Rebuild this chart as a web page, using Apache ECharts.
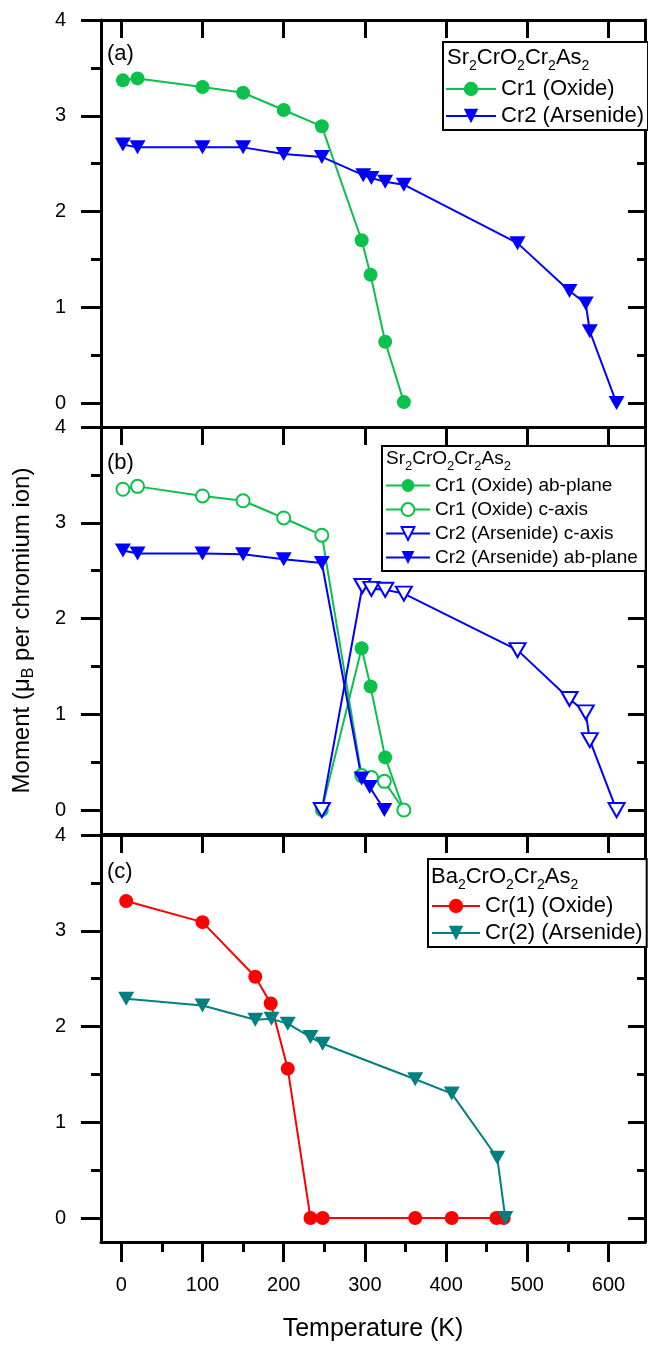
<!DOCTYPE html>
<html>
<head>
<meta charset="utf-8">
<script src="https://cdn.jsdelivr.net/npm/echarts@6.0.0/dist/echarts.min.js"></script>
<style>
  html, body { margin: 0; padding: 0; background: #fff; }
  #chart { width: 648px; height: 1349px; }
</style>
</head>
<body>
<div id="chart"></div>
<script>
// 刻度
const xMajor = [0, 100, 200, 300, 400, 500, 600]
const xMinor = [50, 150, 250, 350, 450, 550]
const yMajor = [0, 1, 2, 3, 4]
const yMinor = [0.5, 1.5, 2.5, 3.5]

// (a) Sr2CrO2Cr2As2
const tempA1 = [2, 20, 100, 150, 200, 247, 296, 307, 325, 348]
const cr1Oxide = [3.37, 3.39, 3.30, 3.24, 3.06, 2.89, 1.70, 1.34, 0.64, 0.01]
const tempA2 = [2, 20, 100, 150, 200, 247, 298, 308, 325, 348, 488, 552, 572, 577, 610]
const cr2Arsenide = [2.70, 2.67, 2.67, 2.67, 2.60, 2.57, 2.38, 2.35, 2.31, 2.28, 1.67, 1.17, 1.04, 0.75, 0.0]

// (b) Sr2CrO2Cr2As2, ab-plane / c-axis
const tempB1ab = [247, 296, 307, 325, 348]
const cr1OxideAb = [0, 1.69, 1.29, 0.55, 0]
const tempB1c = [2, 20, 100, 150, 200, 247, 296, 308, 324, 348]
const cr1OxideC = [3.35, 3.38, 3.28, 3.23, 3.05, 2.87, 0.36, 0.34, 0.30, 0]
const tempB2c = [247, 297, 308, 325, 348, 488, 552, 572, 577, 610]
const cr2ArsenideC = [0, 2.34, 2.31, 2.30, 2.26, 1.67, 1.16, 1.02, 0.73, 0]
const tempB2ab = [2, 20, 100, 150, 200, 247, 296, 306, 324]
const cr2ArsenideAb = [2.71, 2.68, 2.68, 2.67, 2.62, 2.58, 0.33, 0.24, 0.0]

// (c) Ba2CrO2Cr2As2
const tempC1 = [6, 100, 165, 184, 205, 233, 248, 362, 407, 462, 471]
const crOne = [3.31, 3.09, 2.52, 2.24, 1.56, 0, 0, 0, 0, 0, 0]
const tempC2 = [6, 100, 165, 185, 205, 233, 248, 362, 407, 463, 473]
const crTwo = [2.29, 2.22, 2.07, 2.08, 2.03, 1.89, 1.82, 1.45, 1.30, 0.63, 0]

const FONT = "'Liberation Sans', Arial, sans-serif"
const GREEN = '#0CC14B'
const BLUE = '#0000FF'
const RED = '#FF0000'
const TEAL = '#008080'

const panelTops = [20, 427, 835]
const xMin = -25
const xMax = 645
const yMin = -0.25
const yMax = 4

const zip = (xs, ys) => xs.map((x, i) => [x, ys[i]])

const black = { color: '#000', width: 3 }
const grid = []
const xAxis = []
const yAxis = []

// 主坐标轴
panelTops.forEach((top, g) => {
  const last = g === 2
  grid.push({ left: 101, top: top, width: 544, height: 407 })
  xAxis.push({
    gridIndex: g, type: 'value', min: xMin, max: xMax, position: 'bottom',
    axisLine: { show: true, onZero: false, lineStyle: black },
    axisTick: { show: last, customValues: xMajor, length: 20, lineStyle: black },
    axisLabel: { show: last, customValues: xMajor, margin: 33, fontSize: 20, color: '#000', fontFamily: FONT },
    splitLine: { show: false },
    name: last ? 'Temperature (K)' : '',
    nameLocation: 'middle',
    nameGap: 75,
    nameTextStyle: { fontSize: 25, color: '#000', fontFamily: FONT }
  })
  xAxis.push({
    gridIndex: g, type: 'value', min: xMin, max: xMax, position: 'top',
    axisLine: { show: true, onZero: false, lineStyle: black },
    axisTick: { show: true, inside: true, customValues: xMajor, length: 18, lineStyle: black },
    axisLabel: { show: false },
    splitLine: { show: false }
  })
  yAxis.push({
    gridIndex: g, type: 'value', min: yMin, max: yMax, position: 'left',
    axisLine: { show: true, onZero: false, lineStyle: black },
    axisTick: { show: true, customValues: yMajor, length: 20, lineStyle: black },
    axisLabel: { show: true, customValues: yMajor, margin: 35, fontSize: 20, color: '#000', fontFamily: FONT },
    splitLine: { show: false },
    name: g === 1 ? '{n|Moment (μ}{s|B}{n| per chromium ion)}' : '',
    nameLocation: 'middle',
    nameRotate: 90,
    nameGap: 64,
    nameTextStyle: {
      color: '#000',
      rich: {
        n: { fontSize: 24, fontFamily: FONT, color: '#000', lineHeight: 30 },
        s: { fontSize: 16, fontFamily: FONT, color: '#000', lineHeight: 30, verticalAlign: 'bottom' }
      }
    }
  })
  yAxis.push({
    gridIndex: g, type: 'value', min: yMin, max: yMax, position: 'right',
    axisLine: { show: true, onZero: false, lineStyle: black },
    axisTick: { show: true, inside: true, customValues: yMajor, length: 17, lineStyle: black },
    axisLabel: { show: false },
    splitLine: { show: false }
  })
})

// 次刻度 - 叠加网格
panelTops.forEach((top, g) => {
  grid.push({ left: 101, top: top, width: 544, height: 407 })
  xAxis.push({
    gridIndex: 3 + g, type: 'value', min: xMin, max: xMax, position: 'bottom',
    axisLine: { show: false, onZero: false },
    axisTick: { show: g === 2, customValues: xMinor, length: 10, lineStyle: black },
    axisLabel: { show: false },
    splitLine: { show: false }
  })
  yAxis.push({
    gridIndex: 3 + g, type: 'value', min: yMin, max: yMax, position: 'left',
    axisLine: { show: false, onZero: false },
    axisTick: { show: true, customValues: yMinor, length: 10, lineStyle: black },
    axisLabel: { show: false },
    splitLine: { show: false }
  })
  yAxis.push({
    gridIndex: 3 + g, type: 'value', min: yMin, max: yMax, position: 'right',
    axisLine: { show: false, onZero: false },
    axisTick: { show: true, inside: true, customValues: yMinor, length: 8, lineStyle: black },
    axisLabel: { show: false },
    splitLine: { show: false }
  })
})

const circle = { symbol: 'circle', symbolSize: 14 }
const openCircle = { symbol: 'emptyCircle', symbolSize: 13 }
const tri = { symbol: 'triangle', symbolSize: [16, 14], symbolRotate: 180 }
const openTri = { symbol: 'emptyTriangle', symbolSize: [16, 14], symbolRotate: 180 }

function line(name, g, data, color, marker) {
  return Object.assign({
    name: name,
    type: 'line',
    xAxisIndex: g * 2,
    yAxisIndex: g * 2,
    data: data,
    color: color,
    lineStyle: { color: color, width: 2 },
    itemStyle: { color: color, borderWidth: 1.5 },
    animation: false
  }, marker)
}

const series = [
  line('Cr1 (Oxide)', 0, zip(tempA1, cr1Oxide), GREEN, circle),
  line('Cr2 (Arsenide)', 0, zip(tempA2, cr2Arsenide), BLUE, tri),
  line('Cr1 (Oxide) ab-plane', 1, zip(tempB1ab, cr1OxideAb), GREEN, circle),
  line('Cr1 (Oxide) c-axis', 1, zip(tempB1c, cr1OxideC), GREEN, openCircle),
  line('Cr2 (Arsenide) c-axis', 1, zip(tempB2c, cr2ArsenideC), BLUE, openTri),
  line('Cr2 (Arsenide) ab-plane', 1, zip(tempB2ab, cr2ArsenideAb), BLUE, tri),
  line('Cr(1) (Oxide)', 2, zip(tempC1, crOne), RED, circle),
  line('Cr(2) (Arsenide)', 2, zip(tempC2, crTwo), TEAL, tri)
]

function legendBox(names, left, top, padding, itemWidth, itemHeight, fontSize) {
  return {
    data: names,
    orient: 'vertical',
    left: left,
    top: top,
    padding: padding,
    itemWidth: itemWidth,
    itemHeight: itemHeight,
    itemGap: 5,
    borderColor: '#000',
    borderWidth: 2,
    backgroundColor: '#fff',
    selectedMode: false,
    textStyle: { fontSize: fontSize, color: '#000', fontFamily: FONT }
  }
}

const legend = [
  legendBox(['Cr1 (Oxide)', 'Cr2 (Arsenide)'], 443, 42, [36, 4, 3, 2], 50, 18, 22),
  legendBox(['Cr1 (Oxide) ab-plane', 'Cr1 (Oxide) c-axis', 'Cr2 (Arsenide) c-axis', 'Cr2 (Arsenide) ab-plane'],
    382, 446, [30, 8, 4, 3], 44, 16, 19),
  legendBox(['Cr(1) (Oxide)', 'Cr(2) (Arsenide)'], 428, 859, [36, 4, 3, 3], 48, 18, 22)
]

// 化学式 (下标)
function formula(text, x, y, size, sub) {
  return {
    type: 'text', x: x, y: y, z: 100,
    style: {
      text: text,
      fontFamily: FONT,
      fontSize: size,
      fill: '#000',
      verticalAlign: 'middle',
      rich: {
        n: { fontSize: size, fontFamily: FONT, fill: '#000', lineHeight: size + 8 },
        s: { fontSize: sub, fontFamily: FONT, fill: '#000', lineHeight: size + 8, verticalAlign: 'bottom' }
      }
    }
  }
}
function panelLabel(text, y) {
  return {
    type: 'text', x: 107, y: y, z: 100,
    style: { text: text, fontSize: 22, fontFamily: FONT, fill: '#000', verticalAlign: 'middle' }
  }
}

const graphic = [
  formula('{n|Sr}{s|2}{n|CrO}{s|2}{n|Cr}{s|2}{n|As}{s|2}', 447, 58, 22, 14),
  formula('{n|Sr}{s|2}{n|CrO}{s|2}{n|Cr}{s|2}{n|As}{s|2}', 386, 459, 19, 13),
  formula('{n|Ba}{s|2}{n|CrO}{s|2}{n|Cr}{s|2}{n|As}{s|2}', 431, 877, 22, 14),
  panelLabel('(a)', 54),
  panelLabel('(b)', 463),
  panelLabel('(c)', 872)
]

const chart = echarts.init(document.getElementById('chart'))
chart.setOption({
  animation: false,
  backgroundColor: '#fff',
  grid: grid,
  xAxis: xAxis,
  yAxis: yAxis,
  legend: legend,
  graphic: graphic,
  series: series
})
</script>
</body>
</html>
